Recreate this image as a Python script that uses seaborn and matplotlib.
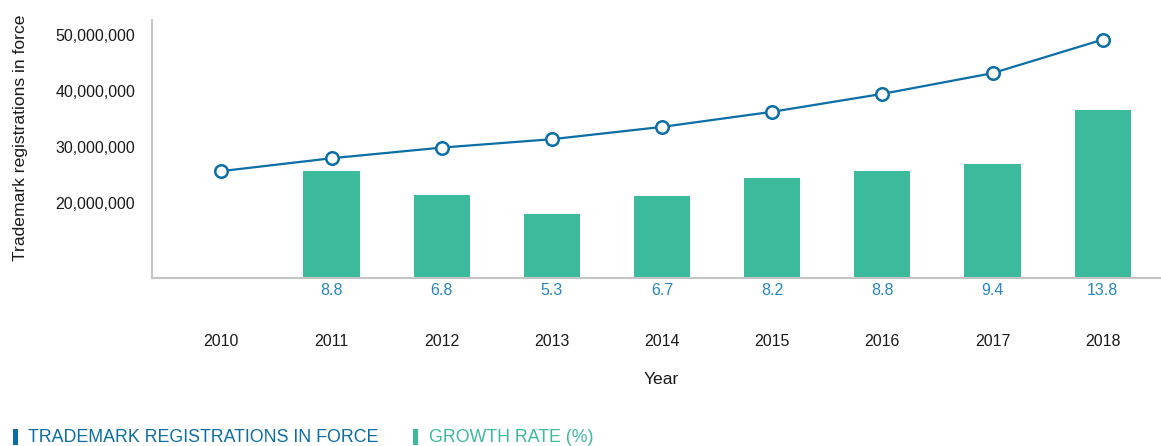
import matplotlib
matplotlib.use("Agg")
import matplotlib.pyplot as plt
import matplotlib.transforms as mtransforms
from matplotlib.patches import Rectangle
from matplotlib.ticker import FuncFormatter
import seaborn as sns
import pandas as pd

# Data
years = ["2010", "2011", "2012", "2013", "2014", "2015", "2016", "2017", "2018"]
registrations = [25.7e6, 28.0e6, 29.9e6, 31.4e6, 33.6e6, 36.3e6, 39.5e6, 43.2e6, 49.2e6]
growth_years = ["2011", "2012", "2013", "2014", "2015", "2016", "2017", "2018"]
growth_rate = [8.8, 6.8, 5.3, 6.7, 8.2, 8.8, 9.4, 13.8]
yticks = [20e6, 30e6, 40e6, 50e6]

reg_df = pd.DataFrame({"year": years, "registrations": registrations})
growth_df = pd.DataFrame({"year": growth_years, "growth": growth_rate})

LINE_BLUE = "#0b6ea6"
LABEL_BLUE = "#2586bf"
BAR_GREEN = "#3bba9c"
SPINE_GREY = "#c4c4c4"
TEXT_DARK = "#1a1a1a"

sns.set_theme(style="white")
plt.rcParams["font.family"] = ["Liberation Sans", "DejaVu Sans"]

W, H = 1161, 446
fig = plt.figure(figsize=(W / 100, H / 100), dpi=100)
ax = fig.add_axes([152 / W, 1 - 278 / H, (1160 - 152) / W, 258 / H])
ax2 = ax.twinx()

# Growth-rate bars on the hidden secondary scale
sns.barplot(data=growth_df, x="year", y="growth", order=years, ax=ax2,
            color=BAR_GREEN, saturation=1, width=0.51, errorbar=None,
            linewidth=0)

# Registrations line with hollow markers
sns.pointplot(data=reg_df, x="year", y="registrations", order=years, ax=ax,
              color=LINE_BLUE, markers="o", errorbar=None)
for ln in ax.lines:
    ln.set_linewidth(1.6)
    ln.set_markersize(9)
    ln.set_markerfacecolor("white")
    ln.set_markeredgecolor(LINE_BLUE)
    ln.set_markeredgewidth(1.8)

# Line axis above the bars
ax.set_zorder(ax2.get_zorder() + 1)
ax.patch.set_visible(False)

ax.set_xlim(-0.63, 8.52)
ax.set_ylim(6.6e6, 52.7e6)
ax2.set_ylim(0, 21.2)

ax.set_yticks(yticks)
ax.yaxis.set_major_formatter(FuncFormatter(lambda v, p: f"{v:,.0f}"))
ax.set_xticks(range(len(years)))
ax.set_xticklabels(years)
ax.tick_params(axis="both", length=0, labelsize=11.5, labelcolor=TEXT_DARK)
ax.tick_params(axis="x", pad=40)
ax.tick_params(axis="y", pad=12)
ax2.set_yticks([])
ax2.set_ylabel("")

ax.set_xlabel("Year", fontsize=12.6, color=TEXT_DARK)
ax.xaxis.set_label_coords(0.505, -0.365)
ax.set_ylabel("Trademark registrations in force", fontsize=12.6,
              color=TEXT_DARK)
ax.yaxis.set_label_coords(-0.123, 0.543)

for s in ["top", "right"]:
    ax.spines[s].set_visible(False)
for s in ax2.spines.values():
    s.set_visible(False)
for s in ["left", "bottom"]:
    ax.spines[s].set_color(SPINE_GREY)
    ax.spines[s].set_linewidth(1.5)

# Growth-rate value labels under the baseline
trans = mtransforms.blended_transform_factory(ax.transData, ax.transAxes)
for yr, g in zip(growth_years, growth_rate):
    ax.text(years.index(yr), -0.047, f"{g:.1f}", transform=trans,
            ha="center", va="center", fontsize=11.5, color=LABEL_BLUE)

# Legend along the bottom edge
def legend_item(x_rect, x_text, color, label):
    fig.add_artist(Rectangle((x_rect / W, 1 - 445 / H), 5 / W, 16 / H,
                             transform=fig.transFigure, color=color, lw=0))
    fig.text(x_text / W, 1 - 437 / H, label, fontsize=12.8, color=color,
             ha="left", va="center")

legend_item(13, 28, LINE_BLUE, "TRADEMARK REGISTRATIONS IN FORCE")
legend_item(413, 429, BAR_GREEN, "GROWTH RATE (%)")

fig.savefig("out.png", dpi=100)
